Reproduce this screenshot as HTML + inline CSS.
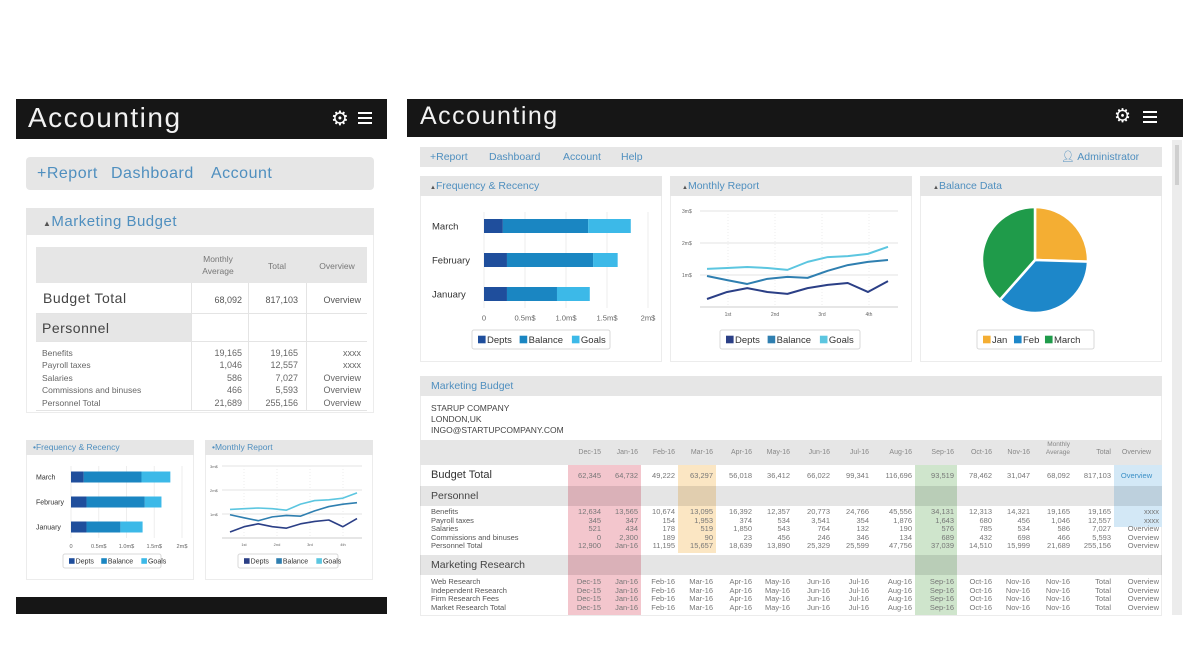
<!DOCTYPE html>
<html><head><meta charset="utf-8">
<style>
*{margin:0;padding:0;box-sizing:border-box}
body{width:1200px;height:646px;background:#fff;position:relative;overflow:hidden;font-family:"Liberation Sans","DejaVu Sans",sans-serif;color:#555}
.a{position:absolute}
.bar{background:#161616}
.title{color:#f2f2f2;font-weight:normal;letter-spacing:1.5px}
.grey{background:#e6e6e6}
.blue{color:#4f8fbf}
.panel{background:#fff;border:1px solid #ececec}
.t{position:absolute;white-space:nowrap}
.r{text-align:right}
.c{text-align:center}
.hb{position:absolute;background:#fff;height:2px}
svg text{font-family:"Liberation Sans","DejaVu Sans",sans-serif}
</style></head>
<body>
<!-- LEFT MOBILE VIEW -->
<div class="a bar" style="left:16px;top:99px;width:371px;height:40px"></div>
<div class="t title" style="left:28px;top:102px;font-size:28px">Accounting</div>
<div class="t" style="left:331px;top:106px;font-size:20px;color:#fff;font-weight:bold">⚙</div>
<div class="a" style="left:358px;top:112px;width:14px;height:13px">
  <div class="hb" style="left:0;top:0;width:14px"></div><div class="hb" style="left:0;top:5px;width:14px"></div><div class="hb" style="left:0;top:10px;width:14px"></div>
</div>
<div class="a grey" style="left:26px;top:157px;width:348px;height:33px;border-radius:4px"></div>
<div class="t blue" style="left:37px;top:165px;font-size:16px;letter-spacing:.5px">+Report</div>
<div class="t blue" style="left:111px;top:165px;font-size:16px;letter-spacing:.5px">Dashboard</div>
<div class="t blue" style="left:211px;top:165px;font-size:16px;letter-spacing:.5px">Account</div>

<div class="a panel" style="left:26px;top:208px;width:348px;height:205px"></div>
<div class="a grey" style="left:26px;top:208px;width:348px;height:27px"></div>
<div class="t blue" style="left:43px;top:213px;font-size:15px;letter-spacing:.5px"><span style="font-size:8px;color:#555">▲</span>Marketing Budget</div>
<div class="a grey" style="left:36px;top:247px;width:331px;height:36px"></div>
<div class="t c" style="left:193px;top:253px;width:50px;font-size:8.5px;line-height:12px;color:#777">Monthly<br>Average</div>
<div class="t c" style="left:252px;top:261px;width:50px;font-size:8.5px;color:#777">Total</div>
<div class="t c" style="left:309px;top:261px;width:56px;font-size:8.5px;color:#777">Overview</div>
<div class="a grey" style="left:36px;top:313px;width:155px;height:28px"></div>
<div class="a" style="left:36px;top:313px;width:331px;height:1px;background:#e4e4e4"></div>
<div class="a" style="left:36px;top:341px;width:331px;height:1px;background:#e4e4e4"></div>
<div class="a" style="left:36px;top:410px;width:331px;height:1px;background:#e4e4e4"></div>
<div class="a" style="left:191px;top:283px;width:1px;height:127px;background:#e4e4e4"></div>
<div class="a" style="left:248px;top:283px;width:1px;height:127px;background:#e4e4e4"></div>
<div class="a" style="left:306px;top:283px;width:1px;height:127px;background:#e4e4e4"></div>
<div class="t" style="left:43px;top:290px;font-size:14px;color:#444;letter-spacing:.5px">Budget Total</div>
<div class="t r" style="left:192px;top:295px;width:50px;font-size:9px">68,092</div>
<div class="t r" style="left:249px;top:295px;width:49px;font-size:9px">817,103</div>
<div class="t r" style="left:307px;top:295px;width:54px;font-size:9px">Overview</div>
<div class="t" style="left:42px;top:320px;font-size:14px;color:#444;letter-spacing:.5px">Personnel</div>
<div class="t" style="left:42px;top:347px;font-size:8.5px;line-height:12.4px;color:#666">Benefits<br>Payroll taxes<br>Salaries<br>Commissions and binuses<br>Personnel Total</div>
<div class="t r" style="left:192px;top:347px;width:50px;font-size:9px;line-height:12.4px;color:#666">19,165<br>1,046<br>586<br>466<br>21,689</div>
<div class="t r" style="left:249px;top:347px;width:49px;font-size:9px;line-height:12.4px;color:#666">19,165<br>12,557<br>7,027<br>5,593<br>255,156</div>
<div class="t r" style="left:307px;top:347px;width:54px;font-size:9px;line-height:12.4px;color:#666">xxxx<br>xxxx<br>Overview<br>Overview<br>Overview</div>

<div class="a panel" style="left:26px;top:440px;width:168px;height:140px"></div>
<div class="a grey" style="left:26px;top:440px;width:168px;height:15px"></div>
<div class="t blue" style="left:33px;top:442px;font-size:8.5px">•Frequency &amp; Recency</div>
<div class="a panel" style="left:205px;top:440px;width:168px;height:140px"></div>
<div class="a grey" style="left:205px;top:440px;width:168px;height:15px"></div>
<div class="t blue" style="left:212px;top:442px;font-size:8.5px">•Monthly Report</div>
<div class="a bar" style="left:16px;top:597px;width:371px;height:17px"></div>

<!-- RIGHT DESKTOP VIEW -->
<div class="a bar" style="left:407px;top:99px;width:776px;height:38px"></div>
<div class="t title" style="left:420px;top:102px;font-size:25px">Accounting</div>
<div class="t" style="left:1114px;top:105px;font-size:19px;color:#fff;font-weight:bold">⚙</div>
<div class="a" style="left:1143px;top:111px;width:14px;height:13px">
  <div class="hb" style="left:0;top:0;width:14px"></div><div class="hb" style="left:0;top:5px;width:14px"></div><div class="hb" style="left:0;top:10px;width:14px"></div>
</div>
<div class="a" style="left:1172px;top:140px;width:10px;height:475px;background:#ececec"></div>
<div class="a" style="left:1175px;top:145px;width:4px;height:40px;background:#cfcfcf"></div>
<div class="a grey" style="left:420px;top:147px;width:742px;height:20px"></div>
<div class="t blue" style="left:430px;top:151px;font-size:10.5px">+Report</div>
<div class="t blue" style="left:489px;top:151px;font-size:10.5px">Dashboard</div>
<div class="t blue" style="left:563px;top:151px;font-size:10.5px">Account</div>
<div class="t blue" style="left:621px;top:151px;font-size:10.5px">Help</div>
<div class="t blue" style="left:1061px;top:150px;font-size:10.5px"><span style="font-size:11px">👤︎</span> Administrator</div>

<div class="a panel" style="left:420px;top:176px;width:242px;height:186px"></div>
<div class="a grey" style="left:420px;top:176px;width:242px;height:20px"></div>
<div class="t blue" style="left:430px;top:180px;font-size:10.5px"><span style="font-size:6px;color:#555">▲</span>Frequency &amp; Recency</div>
<div class="a panel" style="left:670px;top:176px;width:242px;height:186px"></div>
<div class="a grey" style="left:670px;top:176px;width:242px;height:20px"></div>
<div class="t blue" style="left:682px;top:180px;font-size:10.5px"><span style="font-size:6px;color:#555">▲</span>Monthly Report</div>
<div class="a panel" style="left:920px;top:176px;width:242px;height:186px"></div>
<div class="a grey" style="left:920px;top:176px;width:242px;height:20px"></div>
<div class="t blue" style="left:933px;top:180px;font-size:10.5px"><span style="font-size:6px;color:#555">▲</span>Balance Data</div>

<div class="a panel" style="left:420px;top:376px;width:742px;height:240px"></div>
<div class="a grey" style="left:420px;top:376px;width:742px;height:20px"></div>
<div class="t blue" style="left:431px;top:380px;font-size:10.5px">Marketing Budget</div>
<div class="t" style="left:431px;top:403px;font-size:8.5px;line-height:11px;color:#444">STARUP COMPANY<br>LONDON,UK<br>INGO@STARTUPCOMPANY.COM</div>
<div id="tbl"></div>

<svg class="a" id="chart" width="1200" height="646" style="left:0;top:0"></svg>

<script>
// ---- chart data ----
const barCategories = ['March','February','January'];
const barDepts   = [0.23, 0.28, 0.28];
const barBalance = [1.04, 1.05, 0.61];
const barGoals   = [0.52, 0.30, 0.40];
const barTicks   = ['0','0.5m$','1.0m$','1.5m$','2m$'];
const barTickVals= [0,0.5,1,1.5,2];

const lineDepts   = [0.25,0.47,0.59,0.47,0.41,0.59,0.69,0.75,0.47,0.81];
const lineBalance = [0.97,0.84,0.72,0.88,0.94,0.91,1.13,1.31,1.41,1.47];
const lineGoals   = [1.19,1.22,1.25,1.22,1.16,1.41,1.56,1.59,1.66,1.88];
const lineYTicks  = [1,2,3];
const lineYLabels = ['1m$','2m$','3m$'];
const lineXLabels = ['1st','2nd','3rd','4th'];

const pieLabels = ['Jan','Feb','March'];
const pieValues = [25.5, 36, 38.5];

const C = {d:'#1f4e9c', b:'#1a86c2', g:'#3cb9e8', dl:'#2b3f86', bl:'#2f7fb0', gl:'#5cc6e0'};
const pieColors = ['#f4ae33','#1d87c9','#1f9b4a'];

const svg = document.getElementById('chart');
const NS = 'http://www.w3.org/2000/svg';
function mk(tag, attrs, parent){ const e=document.createElementNS(NS,tag); for(const k in attrs) e.setAttribute(k,attrs[k]); (parent||svg).appendChild(e); return e; }

function legend(x,y,w,h,items,fs,name){
  const g = mk('g',{});
  
  
  mk('rect',{x:x,y:y,width:w,height:h,rx:2,fill:'#fff',stroke:'#d8d8d8'},g);
  let cx = x+6;
  items.forEach(it=>{
    mk('rect',{x:cx,y:y+h/2-fs*0.4,width:fs*0.8,height:fs*0.8,fill:it[1]},g);
    const t = mk('text',{x:cx+fs*0.95,y:y+h/2+fs*0.36,'font-size':fs,fill:'#333'},g);
    t.textContent = it[0];
    cx += fs*0.95 + it[0].length*fs*0.56 + 6;
  });
}

function barChart(o){
  const xs = v => o.x0 + v/2*(o.x1-o.x0);
  o.ticks.forEach((v,i)=>{
    const gl = mk('line',{x1:xs(v),x2:xs(v),y1:o.top,y2:o.bottom,stroke:'#eee'});
    
    
    const t = mk('text',{x:xs(v),y:o.bottom+o.fs+3,'font-size':o.fs*0.8,fill:'#666','text-anchor':'middle'});
    t.textContent = barTicks[i];
    
    
  });
  barCategories.forEach((c,i)=>{
    const cy = o.cy[0] + i*(o.cy[1]-o.cy[0]);
    const lab = mk('text',{x:o.lx,y:cy+o.fs*0.35,'font-size':o.fs,fill:'#333'});
    lab.textContent = c;
    
    
    let acc = 0;
    [[barDepts,C.d,'depts'],[barBalance,C.b,'balance'],[barGoals,C.g,'goals']].forEach(s=>{
      const v = s[0][i];
      const r = mk('rect',{x:xs(acc),y:cy-o.bh/2,width:xs(acc+v)-xs(acc),height:o.bh,fill:s[1]});
      
      
      acc += v;
    });
  });
}

function lineChart(o){
  const ys = v => o.base - v*(o.base-o.y3)/3;
  const xs = i => o.x0 + i*(o.x1-o.x0)/(lineGoals.length-1);
  lineYTicks.forEach((v,i)=>{
    const gl = mk('line',{x1:o.gx0,x2:o.gx1,y1:ys(v),y2:ys(v),stroke:'#e3e3e3'});
    
    
    const t = mk('text',{x:o.lx,y:ys(v)+2,'font-size':o.fs,fill:'#666'});
    t.textContent = lineYLabels[i];
    
    
  });
  mk('line',{x1:o.gx0,x2:o.gx1,y1:o.base,y2:o.base,stroke:'#ccc'});
  lineXLabels.forEach((l,i)=>{
    const x = o.xt[0] + i*(o.xt[1]-o.xt[0]);
    mk('line',{x1:x,x2:x,y1:ys(3),y2:o.base,stroke:'#eee','stroke-dasharray':'1,2'});
    const t = mk('text',{x:x,y:o.base+o.fs+4,'font-size':o.fs,fill:'#666','text-anchor':'middle'});
    t.textContent = l;
    
    
  });
  [[lineGoals,C.gl,'goals'],[lineBalance,C.bl,'balance'],[lineDepts,C.dl,'depts']].forEach(s=>{
    const p = mk('polyline',{points:s[0].map((v,i)=>xs(i)+','+ys(v)).join(' '),fill:'none',stroke:s[1],'stroke-width':o.sw,'stroke-linejoin':'round'});
    
    
  });
}

barChart({x0:484,x1:648,top:212,bottom:308,cy:[226,260],bh:14,lx:432,fs:9.5,ticks:barTickVals});
legend(472,330,138,19,[['Depts',C.d],['Balance',C.b],['Goals',C.g]],9.5,'frequency-legend');
barChart({x0:71,x1:182,top:466,bottom:538,cy:[477,502],bh:11,lx:36,fs:7,ticks:barTickVals});
legend(63,554,98,14,[['Depts',C.d],['Balance',C.b],['Goals',C.g]],7,'mobile-frequency-legend');
lineChart({x0:707,x1:888,base:307,y3:211,gx0:700,gx1:898,lx:682,fs:5,xt:[728,775],sw:2});
legend(720,330,140,19,[['Depts',C.dl],['Balance',C.bl],['Goals',C.gl]],9.5,'monthly-legend');
lineChart({x0:230,x1:357,base:538,y3:466,gx0:222,gx1:362,lx:210,fs:4,xt:[244,277],sw:1.6});
legend(238,554,100,14,[['Depts',C.dl],['Balance',C.bl],['Goals',C.gl]],7,'mobile-monthly-legend');

(function(){
  const cx=1035, cy=260, R=53;
  const total = pieValues.reduce((a,b)=>a+b,0);
  let a0 = 0;
  pieValues.forEach((v,i)=>{
    const a1 = a0 + v/total*Math.PI*2;
    const p = (a)=>[cx+R*Math.sin(a), cy-R*Math.cos(a)];
    const s=p(a0), e=p(a1);
    const large = (a1-a0)>Math.PI?1:0;
    const path = mk('path',{d:`M${cx},${cy} L${s[0]},${s[1]} A${R},${R} 0 ${large} 1 ${e[0]},${e[1]} Z`,fill:pieColors[i],stroke:'#fff','stroke-width':2.5});
    
    
    a0 = a1;
  });
  legend(977,330,117,19,pieLabels.map((l,i)=>[l,pieColors[i]]),9.5,'balance-legend');
})();

// ---- budget table ----
const tableHeaders = ['Dec-15','Jan-16','Feb-16','Mar-16','Apr-16','May-16','Jun-16','Jul-16','Aug-16','Sep-16','Oct-16','Nov-16','Monthly Average','Total','Overview'];
const budgetTotalRow = ['62,345','64,732','49,222','63,297','56,018','36,412','66,022','99,341','116,696','93,519','78,462','31,047','68,092','817,103','Overview'];
const personnelLabels = ['Benefits','Payroll taxes','Salaries','Commissions and binuses','Personnel Total'];
const personnelRows = [
 ['12,634','13,565','10,674','13,095','16,392','12,357','20,773','24,766','45,556','34,131','12,313','14,321','19,165','19,165','xxxx'],
 ['345','347','154','1,953','374','534','3,541','354','1,876','1,643','680','456','1,046','12,557','xxxx'],
 ['521','434','178','519','1,850','543','764','132','190','576','785','534','586','7,027','Overview'],
 ['0','2,300','189','90','23','456','246','346','134','689','432','698','466','5,593','Overview'],
 ['12,900','Jan-16','11,195','15,657','18,639','13,890','25,329','25,599','47,756','37,039','14,510','15,999','21,689','255,156','Overview']];
const researchLabels = ['Web Research','Independent Research','Firm Research Fees','Market Research Total'];
const researchRow = ['Dec-15','Jan-16','Feb-16','Mar-16','Apr-16','May-16','Jun-16','Jul-16','Aug-16','Sep-16','Oct-16','Nov-16','Nov-16','Total','Overview'];

const colEdges=[568,604,641,678,716,755,793,833,872,915,957,995,1033,1073,1114,1162];
const tbl = document.getElementById('tbl');
function div(st, txt, name, inter){
  const d=document.createElement('div');
  d.className='t';
  d.setAttribute('style',st);
  if(txt!==undefined) d.innerHTML=txt;
  if(name){
    
    
  }
  tbl.appendChild(d); return d;
}
div('left:420px;top:440px;width:742px;height:25px;background:#e6e6e6','', 'table-header-row', false);
div('left:568px;top:465px;width:73px;height:150px;background:#f3c6cd','', 'highlight-dec-jan', false);
div('left:678px;top:465px;width:38px;height:88px;background:#fbe6c3','', 'highlight-mar', false);
div('left:915px;top:465px;width:42px;height:150px;background:#cfe5cc','', 'highlight-sep', false);
div('left:1114px;top:465px;width:48px;height:62px;background:#d3e8f6','', 'highlight-overview', false);
div('left:420px;top:486px;width:742px;height:20px;background:rgba(0,0,0,0.1)','', 'personnel-section-row', false);
div('left:420px;top:555px;width:742px;height:20px;background:rgba(0,0,0,0.1)','', 'research-section-row', false);
div('left:431px;top:469px;font-size:11px;color:#333','Budget Total','budget-total-label',false);
div('left:431px;top:490px;font-size:10.5px;color:#444','Personnel','personnel-label',false);
div('left:431px;top:559px;font-size:10.5px;color:#444','Marketing Research','research-label',false);
div('left:431px;top:508px;font-size:7.5px;line-height:8.6px;color:#555',personnelLabels.join('<br>'),'personnel-row-labels',false);
div('left:431px;top:578px;font-size:7.5px;line-height:8.6px;color:#555',researchLabels.join('<br>'),'research-row-labels',false);
tableHeaders.forEach((h,i)=>{
  const l=colEdges[i], w=colEdges[i+1]-colEdges[i];
  const two = h==='Monthly Average';
  div(`left:${l}px;top:${two?441:449}px;width:${w-3}px;font-size:${two?6.5:7}px;line-height:8px;color:#888;text-align:${h==='Overview'?'center':'right'}`, two?'Monthly<br>Average':h, 'column-header', false);
  div(`left:${l}px;top:471px;width:${w-3}px;font-size:7.5px;color:${i==14?'#3a8fc6':'#777'};text-align:${i==14?'center':'right'}`, budgetTotalRow[i], i==14?'overview-link':'budget-total-cell', i==14);
  div(`left:${l}px;top:508px;width:${w-3}px;font-size:7.5px;line-height:8.6px;color:#777;text-align:right`, personnelRows.map(r=>r[i]).join('<br>'), 'personnel-cells', false);
  div(`left:${l}px;top:578px;width:${w-3}px;font-size:7.5px;line-height:8.6px;color:#777;text-align:right`, researchLabels.map(()=>researchRow[i]).join('<br>'), 'research-cells', false);
});
</script>
</body></html>
